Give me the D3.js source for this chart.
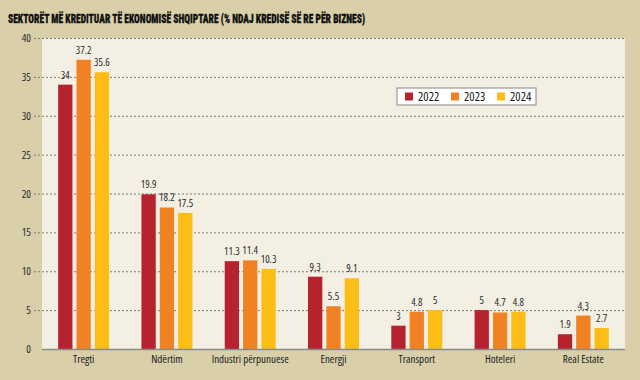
<!DOCTYPE html>
<html><head><meta charset="utf-8">
<script src="https://cdn.jsdelivr.net/npm/d3@7"></script>
<style>
html,body{margin:0;padding:0;background:#d9d0aa;}
svg{display:block;font-family:"Open Sans",sans-serif;font-stretch:condensed;}
.title{font-family:"Roboto Condensed","Open Sans",sans-serif;}
</style></head>
<body><svg id="c" width="640" height="380"></svg>
<script>
const categories = ["Tregti","Ndërtim","Industri përpunuese","Energji","Transport","Hoteleri","Real Estate"];
const seriesNames = ["2022","2023","2024"];
const v2022 = [34, 19.9, 11.3, 9.3, 3, 5, 1.9];
const v2023 = [37.2, 18.2, 11.4, 5.5, 4.8, 4.7, 4.3];
const v2024 = [35.6, 17.5, 10.3, 9.1, 5, 4.8, 2.7];
const yTicks = [0,5,10,15,20,25,30,35,40];
const colors = ["#b6232f","#f08223","#fdbd15"];
const title = "SEKTORËT MË KREDITUAR TË EKONOMISË SHQIPTARE (% NDAJ KREDISË SË RE PËR BIZNES)";

const series = [v2022, v2023, v2024];
const svg = d3.select("#c");
const L = 42, R = 625, T = 38, B = 349;

svg.append("rect").attr("width",640).attr("height",380).attr("fill","#d9d0aa");
svg.append("rect").attr("x",L).attr("y",T).attr("width",R-L).attr("height",B-T).attr("fill","#f3f0e3");

svg.append("text").attr("class","title").attr("x",8).attr("y",22.5).attr("font-size",13.5).attr("font-weight",900)
  .attr("fill","#111").attr("stroke","#111").attr("stroke-width",0.3)
  .attr("textLength",357).attr("lengthAdjust","spacingAndGlyphs").text(title);

const y = d3.scaleLinear().domain([0,40]).range([B,T]);
const x0 = d3.scaleBand().domain(categories).range([L,R]).paddingInner(0.388).paddingOuter(0.194);
const x1 = d3.scaleBand().domain(seriesNames).range([0,x0.bandwidth()]).paddingInner(0.22);

// gridlines
svg.append("g").selectAll("line").data(yTicks.filter(d=>d>0)).join("line")
  .attr("x1",34).attr("x2",R).attr("y1",d=>y(d)+0.5).attr("y2",d=>y(d)+0.5)
  .attr("stroke","#7a7a70").attr("stroke-width",1).attr("stroke-dasharray","2,2");

// y axis labels
const ya = svg.append("g").attr("transform",`translate(${L},0)`)
  .call(d3.axisLeft(y).tickValues(yTicks).tickSize(0).tickPadding(11));
ya.attr("font-family",null).attr("font-size",null);
ya.select(".domain").remove();
ya.selectAll("text").attr("font-size",11).attr("fill","#2a2a2a");

// bars
const g = svg.append("g").selectAll("g").data(categories).join("g")
  .attr("transform",d=>`translate(${x0(d)},0)`);
g.selectAll("rect").data((c,i)=>series.map((s,k)=>({k, v:s[i]}))).join("rect")
  .attr("x",d=>x1(seriesNames[d.k])).attr("width",x1.bandwidth())
  .attr("y",d=>y(d.v)).attr("height",d=>B-y(d.v)).attr("fill",d=>colors[d.k]);
g.selectAll("text").data((c,i)=>series.map((s,k)=>({k, v:s[i]}))).join("text")
  .attr("x",d=>x1(seriesNames[d.k])+x1.bandwidth()/2).attr("y",d=>y(d.v)-6)
  .attr("text-anchor","middle").attr("font-size",10.5).attr("fill","#2a2a2a")
  .text(d=>String(d.v));

// x axis
svg.append("line").attr("x1",L).attr("x2",R).attr("y1",B+0.5).attr("y2",B+0.5)
  .attr("stroke","#8a8a86").attr("stroke-width",1.5);
const xa = svg.append("g").attr("transform",`translate(0,${B})`)
  .call(d3.axisBottom(x0).tickSize(0).tickPadding(6));
xa.attr("font-family",null).attr("font-size",null);
xa.select(".domain").remove();
xa.selectAll("text").attr("font-size",11).attr("fill","#1a1a1a");

// legend
const lg = svg.append("g").attr("transform","translate(397,88)");
lg.append("rect").attr("width",139).attr("height",17).attr("fill","#ffffff")
  .attr("stroke","#9a9a94").attr("stroke-width",1.2);
seriesNames.forEach((n,i)=>{
  const gx = 8 + i*46;
  lg.append("rect").attr("x",gx).attr("y",4.5).attr("width",8).attr("height",8).attr("fill",colors[i]);
  lg.append("text").attr("x",gx+13).attr("y",13).attr("font-size",12.5).attr("fill","#1a1a1a").text(n);
});
</script></body></html>
